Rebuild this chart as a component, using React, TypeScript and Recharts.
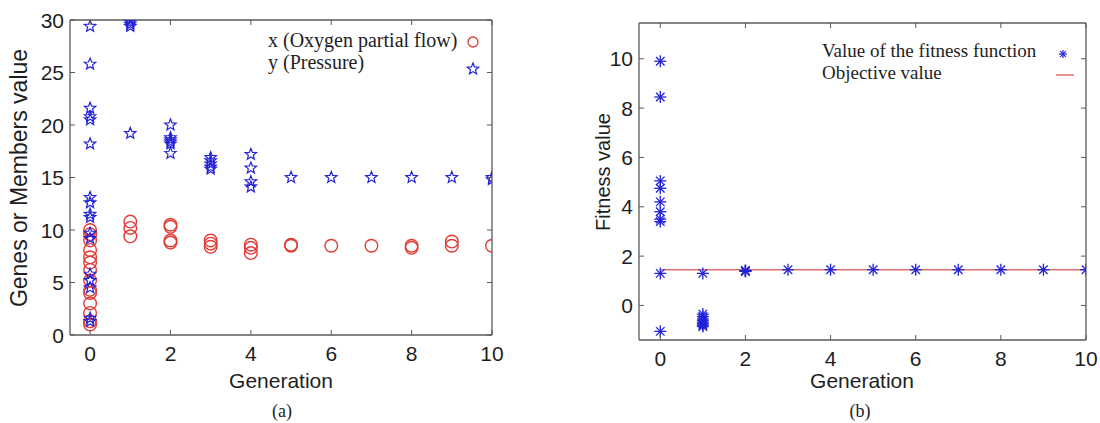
import { Scatter, ScatterChart, XAxis, YAxis } from "recharts";

// generation index on the x axis of both panels
const GENERATIONS = [0, 1, 2, 3, 4, 5, 6, 7, 8, 9, 10];

// panel (a): members of each generation
const oxygenFlow: number[][] = [
  [10.0, 9.6, 9.0, 8.1, 7.4, 6.9, 6.2, 5.2, 4.3, 4.0, 3.0, 2.1, 1.3, 1.0],
  [10.8, 10.2, 9.4],
  [10.5, 10.3, 9.0, 8.8],
  [9.0, 8.7, 8.4],
  [8.6, 8.3, 7.8],
  [8.6, 8.5],
  [8.5],
  [8.5],
  [8.5, 8.3],
  [8.9, 8.5],
  [8.5],
];

const pressure: number[][] = [
  [29.4, 25.8, 21.6, 20.8, 20.5, 18.2, 13.1, 12.6, 11.5, 11.2, 9.7, 9.2, 5.8, 5.2, 4.5, 1.6, 1.3],
  [30.0, 29.8, 29.6, 29.4, 19.2],
  [20.0, 18.8, 18.6, 18.4, 18.2, 17.3],
  [16.9, 16.6, 16.3, 16.0, 15.8],
  [17.2, 15.9, 14.6, 14.1],
  [15.0],
  [15.0],
  [15.0],
  [15.0],
  [15.0],
  [15.0, 14.8],
];

// panel (b): fitness of each member
const fitness: number[][] = [
  [9.9, 8.45, 5.05, 4.75, 4.2, 3.8, 3.5, 3.4, 1.3, -1.05],
  [1.3, -0.35, -0.45, -0.55, -0.62, -0.7, -0.75, -0.8, -0.85],
  [1.4, 1.38, 1.42, 1.4],
  [1.45],
  [1.45],
  [1.45],
  [1.45],
  [1.45],
  [1.45],
  [1.45],
  [1.45],
];

const OBJECTIVE_VALUE = 1.45;
const OBJECTIVE_RANGE = [0, 10];

const X_TICKS = [0, 2, 4, 6, 8, 10];
const LEFT_Y_TICKS = [0, 5, 10, 15, 20, 25, 30];
const RIGHT_Y_TICKS = [0, 2, 4, 6, 8, 10];

const AXIS_COLOR = "#5a5a5a";
const TEXT_COLOR = "#1e1e1e";
const RED = "#e23a36";
const BLUE = "#2222d8";
const SANS = "'Liberation Sans', Arial, sans-serif";
const SERIF = "'Liberation Serif', 'Times New Roman', serif";

type Point = { gen: number; value: number };

const toPoints = (series: number[][]): Point[] =>
  series.flatMap((vals, i) => vals.map((v) => ({ gen: GENERATIONS[i], value: v })));

const starPath = (cx: number, cy: number, R: number, r: number) => {
  const pts: string[] = [];
  for (let i = 0; i < 10; i++) {
    const rad = i % 2 === 0 ? R : r;
    const a = -Math.PI / 2 + (i * Math.PI) / 5;
    pts.push(`${(cx + rad * Math.cos(a)).toFixed(2)},${(cy + rad * Math.sin(a)).toFixed(2)}`);
  }
  return `M${pts.join("L")}Z`;
};

const CircleMark = ({ cx, cy }: any) => (
  <circle cx={cx} cy={cy} r={6.3} fill="none" stroke={RED} strokeWidth={1.4} />
);

const StarMark = ({ cx, cy }: any) => (
  <path d={starPath(cx, cy, 6, 2.6)} fill="none" stroke={BLUE} strokeWidth={1.2} />
);

const AsteriskMark = ({ cx, cy }: any) => {
  const r = 6;
  const d = r * Math.SQRT1_2;
  return (
    <g stroke={BLUE} strokeWidth={1.3}>
      <line x1={cx - r} y1={cy} x2={cx + r} y2={cy} />
      <line x1={cx} y1={cy - r} x2={cx} y2={cy + r} />
      <line x1={cx - d} y1={cy - d} x2={cx + d} y2={cy + d} />
      <line x1={cx - d} y1={cy + d} x2={cx + d} y2={cy - d} />
    </g>
  );
};

const NoMark = () => null;

type Box = { top: number; bottom: number; left: number; right: number };

const makeBottomTick = (box: Box) => (props: any) => {
  const { x, payload } = props;
  return (
    <g>
      <line x1={x} x2={x} y1={box.bottom} y2={box.bottom - 5} stroke={AXIS_COLOR} />
      <line x1={x} x2={x} y1={box.top} y2={box.top + 5} stroke={AXIS_COLOR} />
      <text x={x} y={box.bottom + 26} textAnchor="middle" fontSize={21} fontFamily={SANS} fill={TEXT_COLOR}>
        {payload.value}
      </text>
    </g>
  );
};

const makeLeftTick = (box: Box) => (props: any) => {
  const { y, payload } = props;
  return (
    <g>
      <line x1={box.left} x2={box.left + 5} y1={y} y2={y} stroke={AXIS_COLOR} />
      <line x1={box.right} x2={box.right - 5} y1={y} y2={y} stroke={AXIS_COLOR} />
      <text x={box.left - 6} y={y + 7.5} textAnchor="end" fontSize={21} fontFamily={SANS} fill={TEXT_COLOR}>
        {payload.value}
      </text>
    </g>
  );
};

type PanelProps = {
  offsetLeft: number;
  width: number;
  box: Box;
  yDomain: [number, number];
  yTicks: number[];
  children: React.ReactNode;
};

const X_AXIS_H = 30;
const Y_AXIS_W = 50;

function Panel({ offsetLeft, width, box, yDomain, yTicks, children }: PanelProps) {
  const height = 423;
  const local: Box = { ...box, left: box.left - offsetLeft, right: box.right - offsetLeft };
  return (
    <div style={{ position: "absolute", left: offsetLeft, top: 0 }}>
      <ScatterChart
        width={width}
        height={height}
        margin={{
          top: box.top - 1,
          bottom: height - box.bottom - X_AXIS_H,
          left: local.left - Y_AXIS_W,
          right: width - local.right - 1,
        }}
      >
        <XAxis
          dataKey="gen"
          type="number"
          domain={[-0.5, 10]}
          ticks={X_TICKS}
          height={X_AXIS_H}
          tickSize={0}
          tickMargin={0}
          tickLine={false}
          tick={makeBottomTick(local)}
          axisLine={{ stroke: AXIS_COLOR, strokeWidth: 1.3 }}
          allowDataOverflow
        />
        <XAxis
          xAxisId="top"
          orientation="top"
          type="number"
          domain={[-0.5, 10]}
          height={1}
          tick={false}
          tickLine={false}
          axisLine={{ stroke: AXIS_COLOR, strokeWidth: 1.3 }}
        />
        <YAxis
          dataKey="value"
          type="number"
          domain={yDomain}
          ticks={yTicks}
          width={Y_AXIS_W}
          tickSize={0}
          tickMargin={0}
          tickLine={false}
          tick={makeLeftTick(local)}
          axisLine={{ stroke: AXIS_COLOR, strokeWidth: 1.3 }}
          allowDataOverflow
        />
        <YAxis
          yAxisId="right"
          orientation="right"
          type="number"
          domain={yDomain}
          width={1}
          tick={false}
          tickLine={false}
          axisLine={{ stroke: AXIS_COLOR, strokeWidth: 1.3 }}
        />
        {children}
      </ScatterChart>
    </div>
  );
}

const LEFT_BOX: Box = { top: 20, bottom: 335, left: 70, right: 492 };
const RIGHT_BOX: Box = { top: 23, bottom: 340, left: 639, right: 1086 };

export default function App() {
  const oxygenPoints = toPoints(oxygenFlow);
  const pressurePoints = toPoints(pressure);
  const fitnessPoints = toPoints(fitness);
  const objectivePoints = OBJECTIVE_RANGE.map((g) => ({ gen: g, value: OBJECTIVE_VALUE }));

  const label = (text: string, left: number, top: number, extra: React.CSSProperties = {}) => (
    <div
      style={{
        position: "absolute",
        left,
        top,
        transform: "translate(-50%, -50%)",
        whiteSpace: "nowrap",
        fontFamily: SANS,
        fontSize: 21,
        color: TEXT_COLOR,
        lineHeight: 1,
        ...extra,
      }}
    >
      {text}
    </div>
  );

  return (
    <div style={{ position: "absolute", left: 0, top: 0, width: 1100, height: 423, background: "#fff", overflow: "hidden" }}>
      <Panel offsetLeft={0} width={520} box={LEFT_BOX} yDomain={[0, 30]} yTicks={LEFT_Y_TICKS}>
        <Scatter name="x (Oxygen partial flow)" data={oxygenPoints} shape={CircleMark} isAnimationActive={false} />
        <Scatter name="y (Pressure)" data={pressurePoints} shape={StarMark} isAnimationActive={false} />
      </Panel>
      <Panel offsetLeft={540} width={560} box={RIGHT_BOX} yDomain={[-1.4, 11.45]} yTicks={RIGHT_Y_TICKS}>
        <Scatter
          name="Objective value"
          data={objectivePoints}
          shape={NoMark}
          line={{ stroke: "#e07070", strokeWidth: 1.5 }}
          isAnimationActive={false}
        />
        <Scatter name="Value of the fitness function" data={fitnessPoints} shape={AsteriskMark} isAnimationActive={false} />
      </Panel>

      {/* axis titles */}
      {label("Genes or Members value", 19, 178, { transform: "translate(-50%, -50%) rotate(-90deg)", fontSize: 23 })}
      {label("Generation", 281, 380)}
      {label("Fitness value", 603, 172, { transform: "translate(-50%, -50%) rotate(-90deg)", fontSize: 20 })}
      {label("Generation", 862, 380)}
      {label("(a)", 282, 411, { fontFamily: SERIF, fontSize: 18 })}
      {label("(b)", 860, 411, { fontFamily: SERIF, fontSize: 18 })}

      {/* legend, panel (a) */}
      <div style={{ position: "absolute", left: 268, top: 29, fontFamily: SERIF, fontSize: 20, color: TEXT_COLOR, lineHeight: "22px" }}>
        <div>x (Oxygen partial flow)</div>
        <div>y (Pressure)</div>
      </div>
      <svg style={{ position: "absolute", left: 460, top: 30 }} width={26} height={50}>
        <circle cx={13} cy={12} r={5} fill="none" stroke={RED} strokeWidth={1.3} />
        <path d={starPath(13, 39, 6, 2.6)} fill="none" stroke={BLUE} strokeWidth={1.2} />
      </svg>

      {/* legend, panel (b) */}
      <div style={{ position: "absolute", left: 822, top: 40, fontFamily: SERIF, fontSize: 19, color: TEXT_COLOR, lineHeight: "22px" }}>
        <div>Value of the fitness function</div>
        <div>Objective value</div>
      </div>
      <svg style={{ position: "absolute", left: 1050, top: 40 }} width={30} height={45}>
        <g stroke={BLUE} strokeWidth={1.2}>
          <line x1={9} y1={14} x2={17} y2={14} />
          <line x1={13} y1={10} x2={13} y2={18} />
          <line x1={10.2} y1={11.2} x2={15.8} y2={16.8} />
          <line x1={10.2} y1={16.8} x2={15.8} y2={11.2} />
        </g>
        <line x1={6} y1={35} x2={24} y2={35} stroke="#e07070" strokeWidth={1.5} />
      </svg>
    </div>
  );
}
